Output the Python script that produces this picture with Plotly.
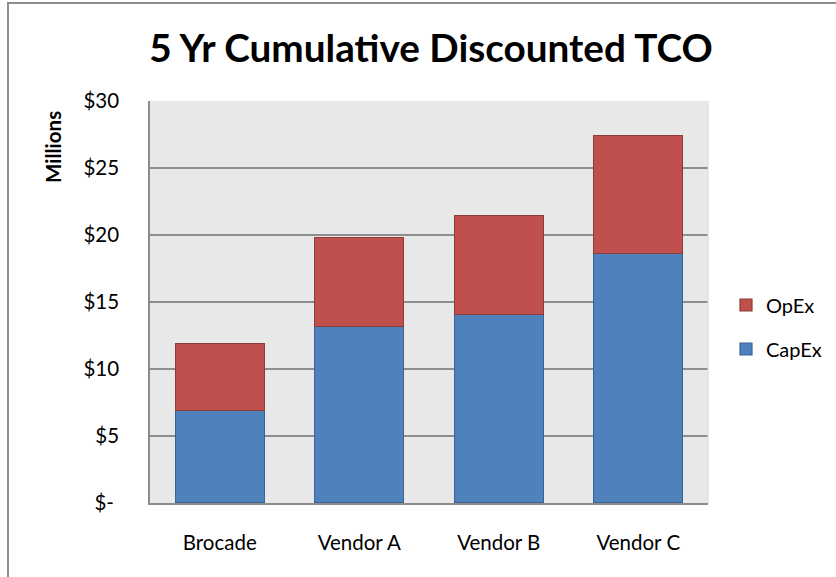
import plotly.graph_objects as go

categories = ["Brocade", "Vendor A", "Vendor B", "Vendor C"]
capex = [6.9, 13.2, 14.05, 18.6]
opex = [5.0, 6.6, 7.4, 8.85]
tick_vals = [0, 5, 10, 15, 20, 25, 30]
tick_text = ["$-\u00a0", "$5", "$10", "$15", "$20", "$25", "$30"]

FONT = "Lato, 'Open Sans', sans-serif"

fig = go.Figure()
fig.add_trace(go.Bar(
    x=categories, y=capex, name="CapEx", legend="legend2",
    marker=dict(color="#4F81BD", line=dict(color="#3A6496", width=1.2)),
))
fig.add_trace(go.Bar(
    x=categories, y=opex, name="OpEx", legend="legend",
    marker=dict(color="#C0504D", line=dict(color="#8E3A38", width=1.2)),
))

W, H = 836, 577
L, R, T, B = 150, 128, 101, 74
pw, ph = W - L - R, H - T - B

def px(xp):
    return (xp - L) / pw

def py(yp):
    return (H - B - yp) / ph

fig.update_layout(
    width=W, height=H,
    margin=dict(l=L, r=R, t=T, b=B, autoexpand=False),
    barmode="stack", bargap=0.36,
    paper_bgcolor="white", plot_bgcolor="#E8E8E8",
    font=dict(family=FONT, color="#000000", size=20),
    title=dict(text="<b>5 Yr Cumulative Discounted TCO</b>",
               font=dict(family=FONT, size=38.7, color="#000000"),
               xref="container", yref="container",
               x=431 / W, xanchor="center", y=1 - 48 / H, yanchor="middle"),
    showlegend=True,
    legend=dict(x=px(726), y=py(305), xanchor="left", yanchor="middle",
                font=dict(size=20, family=FONT), bgcolor="rgba(0,0,0,0)",
                borderwidth=0),
    legend2=dict(x=px(726), y=py(349), xanchor="left", yanchor="middle",
                 font=dict(size=20, family=FONT), bgcolor="rgba(0,0,0,0)",
                 borderwidth=0),
    xaxis=dict(showgrid=False, showline=True, linecolor="#8C8C8C", linewidth=2,
               ticks="", tickfont=dict(size=20.5, family=FONT),
               ticklabelstandoff=20, mirror=False),
    yaxis=dict(range=[0, 30], tickvals=tick_vals, ticktext=tick_text,
               showgrid=True, gridcolor="#8E8E8E", gridwidth=1.6,
               showline=True, linecolor="#8C8C8C", linewidth=1.5,
               ticks="", tickfont=dict(size=20.5, family=FONT),
               ticklabelstandoff=25, zeroline=False),
    shapes=[
        dict(type="rect", xref="paper", yref="paper",
             x0=px(8), x1=px(900), y0=py(3), y1=py(650),
             line=dict(color="#8C8C8C", width=2), fillcolor="rgba(0,0,0,0)",
             layer="above"),
        dict(type="line", xref="paper", yref="paper",
             x0=1, x1=1, y0=0, y1=1, line=dict(color="#D8D8D8", width=1)),
    ],
    annotations=[
        dict(text="<b>Millions</b>", xref="paper", yref="paper",
             x=px(53), y=py(147), textangle=-90, showarrow=False,
             font=dict(size=20.5, family=FONT), xanchor="center", yanchor="middle"),
    ],
)

fig.write_html("out.html", post_script="document.body.style.margin='0';",
               config={"displayModeBar": False})
